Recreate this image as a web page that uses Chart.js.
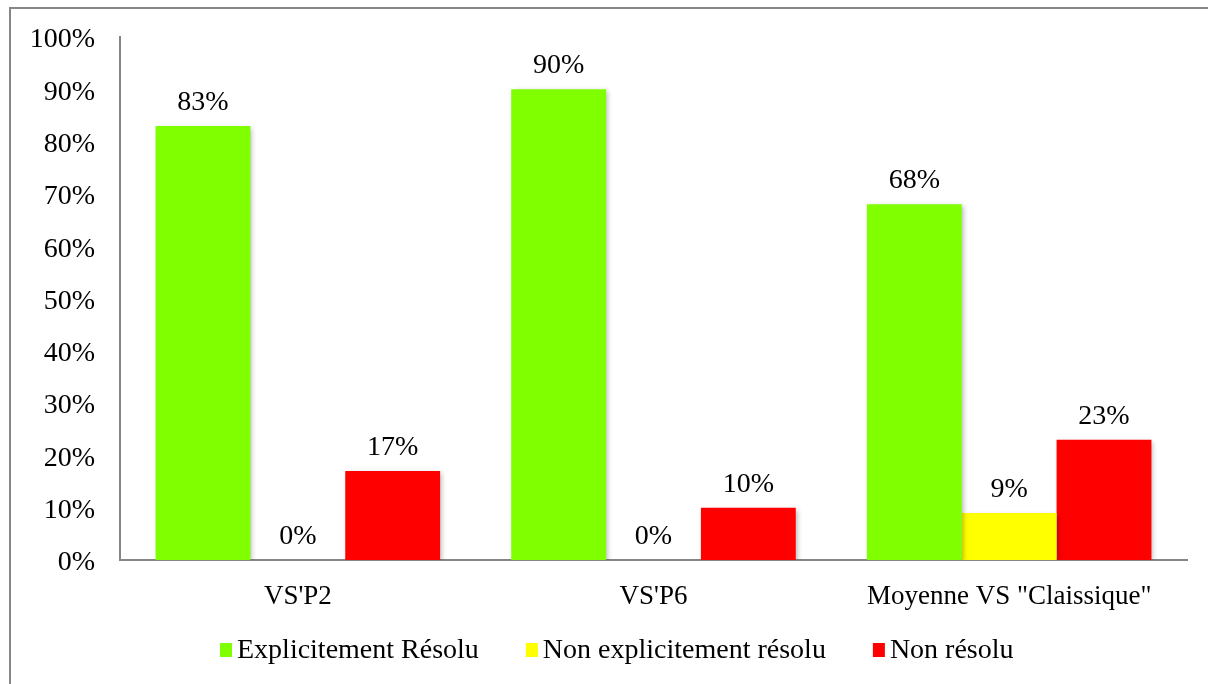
<!DOCTYPE html>
<html>
<head>
<meta charset="utf-8">
<script src="https://cdn.jsdelivr.net/npm/chart.js@4/dist/chart.umd.min.js"></script>
<style>
  html, body { margin: 0; padding: 0; background: #fff; }
  #wrap { position: relative; width: 1208px; height: 684px; }
</style>
</head>
<body>
<div id="wrap"><canvas id="c" width="1208" height="684"></canvas></div>
<script>
const categories = ["VS'P2", "VS'P6", 'Moyenne VS "Claissique"'];
const seriesNames = ["Explicitement Résolu", "Non explicitement résolu", "Non résolu"];
const explicitementResolu = [83, 90, 68];
const nonExplicitementResolu = [0, 0, 9];
const nonResolu = [17, 10, 23];
const yTicks = [0, 10, 20, 30, 40, 50, 60, 70, 80, 90, 100];
const seriesColors = ["#80FF00", "#FFFF00", "#FF0000"];

const FONT = "'Liberation Serif', 'Times New Roman', serif";
const AXIS_COLOR = "#868686";

const frame = {
  id: 'frame',
  afterDraw(chart) {
    const ctx = chart.ctx;
    ctx.save();
    ctx.fillStyle = AXIS_COLOR;
    ctx.fillRect(9, 7, 2, 684);
    ctx.fillRect(9, 7, 1208, 2);
    ctx.restore();
  }
};

const shadow = {
  id: 'shadow',
  beforeDatasetsDraw(chart) {
    const ctx = chart.ctx;
    ctx.save();
    ctx.shadowColor = 'rgba(0,0,0,0.28)';
    ctx.shadowBlur = 5;
    ctx.shadowOffsetX = 2;
    ctx.shadowOffsetY = 2;
  },
  afterDatasetsDraw(chart) {
    chart.ctx.restore();
  }
};

const valueLabels = {
  id: 'valueLabels',
  afterDatasetsDraw(chart) {
    const ctx = chart.ctx;
    ctx.save();
    ctx.font = "28px " + FONT;
    ctx.fillStyle = "#000";
    ctx.textAlign = "center";
    ctx.textBaseline = "alphabetic";
    chart.data.datasets.forEach((ds, i) => {
      const meta = chart.getDatasetMeta(i);
      meta.data.forEach((el, j) => {
        ctx.fillText(ds.data[j] + "%", el.x, el.y - 16);
      });
    });
    ctx.restore();
  }
};

const customLegend = {
  id: 'customLegend',
  afterDraw(chart) {
    const ctx = chart.ctx;
    ctx.save();
    ctx.font = "28px " + FONT;
    ctx.textBaseline = "alphabetic";
    ctx.textAlign = "left";
    let x = 220;
    const boxTop = 643, boxW = 12, boxH = 14, baseY = 658;
    chart.data.datasets.forEach((ds) => {
      ctx.fillStyle = ds.backgroundColor;
      ctx.fillRect(x, boxTop, boxW, boxH);
      x += boxW + 5;
      ctx.fillStyle = "#000";
      ctx.fillText(ds.label, x, baseY);
      x += ctx.measureText(ds.label).width + 47;
    });
    ctx.restore();
  }
};

new Chart(document.getElementById('c'), {
  type: 'bar',
  data: {
    labels: categories,
    datasets: [
      { label: seriesNames[0], data: explicitementResolu, backgroundColor: seriesColors[0] },
      { label: seriesNames[1], data: nonExplicitementResolu, backgroundColor: seriesColors[1] },
      { label: seriesNames[2], data: nonResolu, backgroundColor: seriesColors[2] }
    ]
  },
  options: {
    responsive: false,
    animation: false,
    layout: { padding: { left: 0, right: 21, top: 37, bottom: 0 } },
    datasets: { bar: { categoryPercentage: 0.8, barPercentage: 1.0 } },
    plugins: {
      legend: { display: false },
      tooltip: { enabled: false }
    },
    scales: {
      x: {
        grid: { display: false, drawTicks: false },
        border: { display: true, color: AXIS_COLOR, width: 2 },
        ticks: { color: "#000", font: { family: FONT, size: 27 }, padding: 21, maxRotation: 0 },
        afterFit(scale) { scale.height = 124; scale.paddingLeft = 0; scale.paddingRight = 0; }
      },
      y: {
        min: 0, max: 100,
        afterBuildTicks(scale) { scale.ticks = yTicks.map(v => ({ value: v })); },
        grid: { display: false, drawTicks: false },
        border: { display: true, color: AXIS_COLOR, width: 2 },
        ticks: { color: "#000", font: { family: FONT, size: 28 }, padding: 25, labelOffset: 3, callback: v => v + "%" },
        afterFit(scale) { scale.width = 120; scale.paddingTop = 0; scale.paddingBottom = 0; }
      }
    }
  },
  plugins: [frame, shadow, valueLabels, customLegend]
});
</script>
</body>
</html>
